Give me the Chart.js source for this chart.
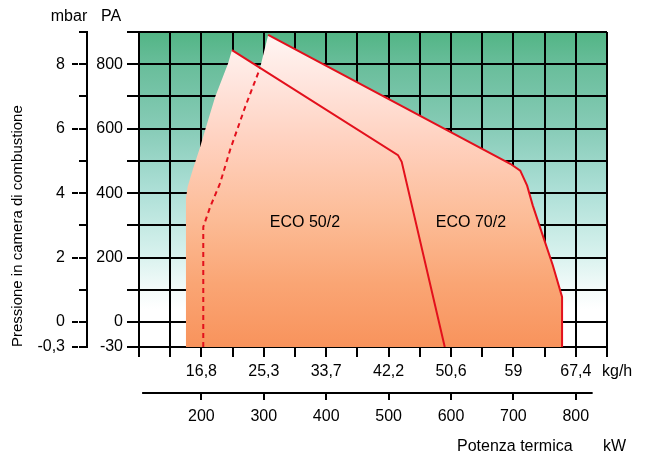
<!DOCTYPE html>
<html>
<head>
<meta charset="utf-8">
<title>Campo di lavoro ECO 50/2 - ECO 70/2</title>
<script src="https://cdn.jsdelivr.net/npm/chart.js@4.4.1/dist/chart.umd.min.js"></script>
<style>
    html, body { margin: 0; padding: 0; background: #fff; }
    #wrap { width: 646px; height: 457px; }
</style>
</head>
<body>
<div id="wrap"><canvas id="workChart" width="646" height="457"></canvas></div>
<script>
// Burner names
const burnerNames = ['ECO 50/2', 'ECO 70/2'];

// ECO 50/2 working field outline (kW / Pa)
const eco50Kw = [175, 175, 178, 186, 198, 206, 222, 243, 249, 515, 521, 590];
const eco50Pa = [-30, 380, 420, 472, 543, 596, 698, 804, 844, 518, 497, -30];

// ECO 70/2 working field outline (kW / Pa)
const eco70Kw = [203, 203, 214, 230, 246, 270, 294, 307, 695, 711, 722, 731, 747, 763, 778, 778];
const eco70Pa = [-30, 295, 357, 431, 534, 667, 788, 891, 491, 470, 423, 362, 269, 177, 78, -30];

// Axis ticks and labels
const kwTicks = [100, 150, 200, 250, 300, 350, 400, 450, 500, 550, 600, 650, 700, 750, 800, 850];
const kwLabels = [200, 300, 400, 500, 600, 700, 800];
const kghLabels = ['16,8', '25,3', '33,7', '42,2', '50,6', '59', '67,4'];
const paTicks = [-30, 0, 100, 200, 300, 400, 500, 600, 700, 800, 900];
const paLabels = [800, 600, 400, 200, 0, -30];
const mbarLabels = ['8', '6', '4', '2', '0', '-0,3'];

// Where the burner names sit (kW / Pa)
const nameKw = [366, 632];
const namePa = [310, 310];

Chart.defaults.font.family = '"Liberation Sans", Arial, sans-serif';
Chart.defaults.color = '#000';

// Pressure axis: the -30..0 band is drawn taller than the rest
const BELOW_ZERO = 25 / 315;
class PressureScale extends Chart.LinearScale {
    getPixelForValue(value) {
        if (value === null || isNaN(value)) return NaN;
        let dec;
        if (value < 0) {
            dec = (value - this.min) / (0 - this.min) * BELOW_ZERO;
        } else {
            dec = BELOW_ZERO + value / this.max * (1 - BELOW_ZERO);
        }
        return this.getPixelForDecimal(dec);
    }
    getValueForPixel(pixel) {
        const dec = this.getDecimalForPixel(pixel);
        if (dec < BELOW_ZERO) return this.min + dec / BELOW_ZERO * (0 - this.min);
        return (dec - BELOW_ZERO) / (1 - BELOW_ZERO) * this.max;
    }
}
PressureScale.id = 'pressure';
PressureScale.defaults = Chart.LinearScale.defaults;
Chart.register(PressureScale);

function points(xs, ys, from, to) {
    return xs.slice(from, to).map((x, i) => ({ x: x, y: ys[from + i] }));
}

function fillGradient(context) {
    const chart = context.chart;
    const area = chart.chartArea;
    if (!area) return '#fbb890';
    const g = chart.ctx.createLinearGradient(0, area.top, 0, area.bottom);
    g.addColorStop(0, '#fff7f5');
    g.addColorStop(0.15, '#ffe6df');
    g.addColorStop(0.35, '#ffd1bf');
    g.addColorStop(0.6, '#fcbb95');
    g.addColorStop(0.8, '#faa574');
    g.addColorStop(1, '#f8935c');
    return g;
}

const tickFont = { size: 16 };

// Background gradient, loose texts and small axis details
const decorPlugin = {
    id: 'decor',
    beforeDraw(chart) {
        const { ctx, chartArea: a } = chart;
        const g = ctx.createLinearGradient(0, a.top, 0, a.bottom);
        g.addColorStop(0, '#52b585');
        g.addColorStop(0.1, '#68bd9a');
        g.addColorStop(0.3, '#86cbb6');
        g.addColorStop(0.5, '#acdfd6');
        g.addColorStop(0.7, '#d6f1ed');
        g.addColorStop(0.82, '#f4fbfa');
        g.addColorStop(0.88, '#ffffff');
        ctx.save();
        ctx.fillStyle = g;
        ctx.fillRect(a.left, a.top, a.right - a.left, a.bottom - a.top);
        ctx.restore();
    },
    afterDraw(chart) {
        const { ctx, scales } = chart;
        ctx.save();

        // kW axis line, shorter than the plot
        ctx.strokeStyle = '#000';
        ctx.lineWidth = 2;
        ctx.beginPath();
        ctx.moveTo(scales.x.getPixelForValue(105), scales.x2.top + 1);
        ctx.lineTo(scales.x.getPixelForValue(827), scales.x2.top + 1);
        ctx.stroke();

        // longer ticks on the labelled mbar values
        const edge = scales.y2.right;
        ctx.beginPath();
        paLabels.forEach(v => {
            const py = Math.round(scales.y2.getPixelForValue(v));
            ctx.moveTo(edge - 15, py);
            ctx.lineTo(edge - 9, py);
        });
        ctx.stroke();

        ctx.fillStyle = '#000';
        ctx.font = '16px "Liberation Sans", Arial, sans-serif';
        ctx.textBaseline = 'middle';

        ctx.textAlign = 'center';
        ctx.fillText('mbar', 69, 17);
        ctx.fillText('PA', 111, 17);

        ctx.textAlign = 'left';
        ctx.fillText('kg/h', 602, 372);
        ctx.fillText('Potenza termica', 457, 447);
        ctx.fillText('kW', 603, 447);

        ctx.textAlign = 'center';
        burnerNames.forEach((name, i) => {
            ctx.fillText(name, scales.x.getPixelForValue(nameKw[i]), scales.y.getPixelForValue(namePa[i]));
        });
        ctx.restore();
    }
};

const ctx = document.getElementById('workChart').getContext('2d');
const workChart = new Chart(ctx, {
    type: 'line',
    data: {
        datasets: [{
            label: burnerNames[0] + ' limite',
            data: points(eco50Kw, eco50Pa, 8, eco50Kw.length),
            borderColor: '#e3101c',
            borderWidth: 2,
            fill: false
        }, {
            label: burnerNames[1] + ' minimo',
            data: points(eco70Kw, eco70Pa, 0, 7),
            borderColor: '#e3101c',
            borderWidth: 2,
            borderDash: [5, 4],
            fill: false
        }, {
            label: burnerNames[1] + ' limite',
            data: points(eco70Kw, eco70Pa, 7, eco70Kw.length),
            borderColor: '#e3101c',
            borderWidth: 2,
            fill: false
        }, {
            label: burnerNames[0],
            data: points(eco50Kw, eco50Pa, 0, eco50Kw.length),
            borderWidth: 0,
            borderColor: 'rgba(0,0,0,0)',
            backgroundColor: fillGradient,
            fill: 'start'
        }, {
            label: burnerNames[1],
            data: points(eco70Kw, eco70Pa, 0, eco70Kw.length),
            borderWidth: 0,
            borderColor: 'rgba(0,0,0,0)',
            backgroundColor: fillGradient,
            fill: 'start'
        }]
    },
    options: {
        responsive: false,
        animation: false,
        layout: { padding: { top: 32, bottom: 25, left: 0, right: 39 } },
        elements: {
            point: { radius: 0, hoverRadius: 0 },
            line: { tension: 0 }
        },
        plugins: {
            legend: { display: false },
            tooltip: { enabled: false }
        },
        scales: {
            x: {
                type: 'linear',
                position: 'bottom',
                weight: 0,
                min: 100,
                max: 850,
                afterBuildTicks: axis => { axis.ticks = kwTicks.map(v => ({ value: v })); },
                afterFit: axis => { axis.height = 45; },
                grid: { color: '#000', lineWidth: 2, tickLength: 10 },
                border: { color: '#000', width: 2 },
                ticks: {
                    autoSkip: false,
                    maxRotation: 0,
                    padding: 5,
                    font: tickFont,
                    callback: v => {
                        const i = kwLabels.indexOf(v);
                        return i < 0 ? '' : kghLabels[i];
                    }
                }
            },
            x2: {
                type: 'linear',
                position: 'bottom',
                weight: 1,
                min: 100,
                max: 850,
                afterBuildTicks: axis => { axis.ticks = kwLabels.map(v => ({ value: v })); },
                afterFit: axis => { axis.height = 40; },
                grid: { drawOnChartArea: false, color: '#000', lineWidth: 2, tickLength: 8 },
                border: { display: false },
                ticks: { autoSkip: false, maxRotation: 0, padding: 7, font: tickFont, callback: v => String(v) }
            },
            y: {
                type: 'pressure',
                position: 'left',
                weight: 0,
                min: -30,
                max: 900,
                afterBuildTicks: axis => { axis.ticks = paTicks.map(v => ({ value: v })); },
                afterFit: axis => { axis.width = 52; },
                grid: { color: '#000', lineWidth: 2, tickLength: 12 },
                border: { color: '#000', width: 2 },
                ticks: {
                    autoSkip: false,
                    padding: 4,
                    font: tickFont,
                    callback: v => paLabels.includes(v) ? String(v) : ''
                }
            },
            y2: {
                type: 'pressure',
                position: 'left',
                weight: 1,
                min: -30,
                max: 900,
                afterBuildTicks: axis => { axis.ticks = paTicks.map(v => ({ value: v })); },
                afterFit: axis => { axis.width = 87; },
                grid: { drawOnChartArea: false, color: '#000', lineWidth: 2, tickLength: 8 },
                border: { color: '#000', width: 2 },
                title: {
                    display: true,
                    text: 'Pressione in camera di combustione',
                    align: 'start',
                    font: { size: 15 },
                    padding: { top: 9, bottom: 0 }
                },
                ticks: {
                    autoSkip: false,
                    padding: 14,
                    font: tickFont,
                    callback: v => {
                        const i = paLabels.indexOf(v);
                        return i < 0 ? '' : mbarLabels[i];
                    }
                }
            }
        }
    },
    plugins: [decorPlugin]
});
</script>
</body>
</html>
